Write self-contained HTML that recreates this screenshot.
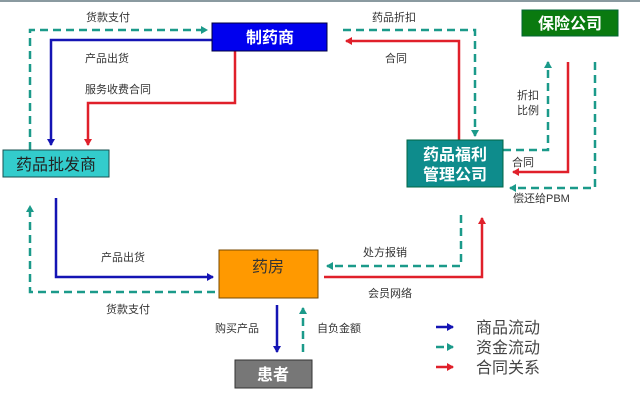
<!DOCTYPE html>
<html><head><meta charset="utf-8"><style>
body{margin:0;width:640px;height:407px;overflow:hidden;background:#fff;font-family:"Liberation Sans","Noto Sans CJK SC",sans-serif}
</style></head><body>
<svg width="640" height="407" xmlns="http://www.w3.org/2000/svg" font-family="Liberation Sans, Noto Sans CJK SC, sans-serif">
<defs>
<marker id="ab" markerWidth="8" markerHeight="8" refX="6" refY="4" orient="auto" markerUnits="userSpaceOnUse"><path d="M0,0 L7,4 L0,8z" fill="#1414b4"/></marker>
<marker id="ar" markerWidth="8" markerHeight="8" refX="6" refY="4" orient="auto" markerUnits="userSpaceOnUse"><path d="M0,0 L7,4 L0,8z" fill="#e0202a"/></marker>
<marker id="ag" markerWidth="8" markerHeight="8" refX="6" refY="4" orient="auto" markerUnits="userSpaceOnUse"><path d="M0,0 L7,4 L0,8z" fill="#1b9a8a"/></marker>
</defs>
<rect x="0" y="0" width="640" height="2" fill="#8a9aa0"/>
<g fill="none" stroke-width="2.5">
<g stroke="#1b9a8a" stroke-dasharray="8,5" marker-end="url(#ag)">
<path d="M30,150 V30 H207"/>
<path d="M343,30 H475 V136"/>
<path d="M503,150 H548 V62"/>
<path d="M595,62 V188 H510"/>
<path d="M215,292 H30 V206"/>
<path d="M461,215 V266 H327"/>
<path d="M303,352 V308"/>
<path d="M436,347 H453"/>
</g>
<g stroke="#1414b4" marker-end="url(#ab)">
<path d="M212,40 H51 V145"/>
<path d="M56,198 V277 H213"/>
<path d="M277,305 V352"/>
<path d="M436,327 H453"/>
</g>
<g stroke="#e0202a" marker-end="url(#ar)">
<path d="M235,51 V103 H88 V145"/>
<path d="M459,140 V41 H346"/>
<path d="M568,62 V172 H513"/>
<path d="M324,277 H482 V218"/>
<path d="M436,367 H453"/>
</g>
</g>
<rect x="212" y="23" width="115" height="28" fill="#0000ee" stroke="#000040"/>
<text x="270" y="43" fill="#fff" font-size="16" font-weight="bold" text-anchor="middle">制药商</text>
<rect x="3" y="150" width="106" height="27" fill="#33cccc" stroke="#1a5050"/>
<text x="56" y="170" fill="#222" font-size="16" text-anchor="middle">药品批发商</text>
<rect x="522" y="10" width="96" height="26" fill="#0a7a10" stroke="#063"/>
<text x="570" y="29" fill="#fff" font-size="16" font-weight="bold" text-anchor="middle">保险公司</text>
<rect x="407" y="140" width="96" height="47" fill="#0e8c8c" stroke="#064"/>
<text x="455" y="160" fill="#fff" font-size="16" font-weight="bold" text-anchor="middle">药品福利</text>
<text x="455" y="180" fill="#fff" font-size="16" font-weight="bold" text-anchor="middle">管理公司</text>
<rect x="219" y="250" width="99" height="48" fill="#ff9900" stroke="#7a4a00"/>
<text x="268" y="272" fill="#333" font-size="16" text-anchor="middle">药房</text>
<rect x="235" y="360" width="77" height="28" fill="#777" stroke="#333"/>
<text x="273" y="380" fill="#fff" font-size="16" font-weight="bold" text-anchor="middle">患者</text>
<g font-size="11" fill="#333">
<text x="86" y="21">货款支付</text>
<text x="85" y="62">产品出货</text>
<text x="85" y="93">服务收费合同</text>
<text x="372" y="21">药品折扣</text>
<text x="385" y="62">合同</text>
<text x="517" y="99">折扣</text>
<text x="517" y="114">比例</text>
<text x="512" y="166">合同</text>
<text x="513" y="202">偿还给PBM</text>
<text x="101" y="261">产品出货</text>
<text x="363" y="256">处方报销</text>
<text x="368" y="297">会员网络</text>
<text x="106" y="313">货款支付</text>
<text x="215" y="332">购买产品</text>
<text x="317" y="332">自负金额</text>
</g>
<g font-size="16" fill="#444">
<text x="476" y="333">商品流动</text>
<text x="476" y="353">资金流动</text>
<text x="476" y="373">合同关系</text>
</g>
</svg>
</body></html>
